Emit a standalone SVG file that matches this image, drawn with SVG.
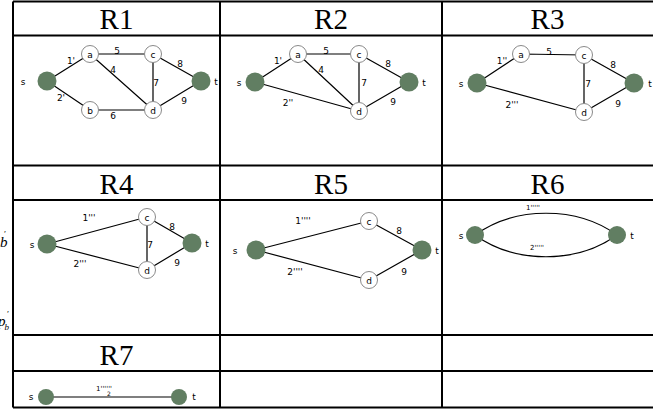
<svg xmlns="http://www.w3.org/2000/svg" width="653" height="409" viewBox="0 0 653 409">
<style>
.grid{stroke:#000;stroke-width:2;fill:none}
.hdr{font-family:"Liberation Serif",serif;font-size:29px;text-anchor:middle;fill:#000}
.e{stroke:#000;stroke-width:1.2;fill:none}
.lbl{font-family:"DejaVu Sans",sans-serif;font-size:9px;text-anchor:middle;fill:#000}
.sm{font-size:7px}
.nl{font-family:"DejaVu Sans",sans-serif;font-size:9px;text-anchor:middle;fill:#000}
.g{fill:#617e62}
.w{fill:#fff;stroke:#8a8a8a;stroke-width:1}
.frag{font-family:"Liberation Serif",serif;font-style:italic;fill:#000}
</style>
<rect width="653" height="409" fill="#fff"/>
<text class="frag" x="0" y="247" font-size="15">b<tspan dx="-4" dy="-10" font-size="9">′</tspan></text>
<text class="frag" x="-2" y="326" font-size="15">p<tspan dx="1" dy="-9" font-size="9">′</tspan><tspan dx="-4" dy="13" font-size="9">b</tspan></text>
<g id="table">
<path class="grid" d="M13,1.5H653M13,35.5H653M13,165.5H653M13,200H653M13,335H653M13,371H653M13,407.5H653M13,1.5V407.5M220,1.5V407.5M442,1.5V407.5"/>
<text class="hdr" x="116.5" y="29">R1</text>
<text class="hdr" x="331" y="29">R2</text>
<text class="hdr" x="547.5" y="29">R3</text>
<text class="hdr" x="116.5" y="194">R4</text>
<text class="hdr" x="331" y="194">R5</text>
<text class="hdr" x="547.5" y="194">R6</text>
<text class="hdr" x="116.5" y="365">R7</text>
</g>
<g id="connectors">
<path class="e" d="M47,81L90,54M90,54L153,54M90,54L153,110M153,54L201,81M153,54L153,110M47,81L90,110M90,110L153,110M153,110L201,81"/>
<path class="e" d="M255,82L298,54M298,54L359,54M298,54L359,111M359,54L409,82M359,54L359,111M255,82L359,111M359,111L409,82"/>
<path class="e" d="M477,83L521,54M521,54L584,55M584,55L634,83M584,55L584,112M477,83L584,112M584,112L634,83"/>
<path class="e" d="M47,244L147,217M147,217L192,243M147,217L147,270M47,244L147,270M147,270L192,243"/>
<path class="e" d="M256,250L369,221M369,221L422,250M256,250L369,280M369,280L422,250"/>
<path class="e" d="M475,235C515,206 577,206 617,235M475,235C515,264 577,264 617,235"/>
<path class="e" d="M46,397H179" stroke="#555"/>
<text class="lbl" x="71" y="63.5">1'</text>
<text class="lbl" x="117" y="54">5</text>
<text class="lbl" x="113" y="72.5">4</text>
<text class="lbl" x="180" y="66.5">8</text>
<text class="lbl" x="156" y="85.5">7</text>
<text class="lbl" x="61" y="100.5">2'</text>
<text class="lbl" x="113" y="118.5">6</text>
<text class="lbl" x="184" y="103.5">9</text>
<text class="lbl" x="278" y="63.5">1'</text>
<text class="lbl" x="326" y="53.5">5</text>
<text class="lbl" x="321" y="72.5">4</text>
<text class="lbl" x="388" y="66.5">8</text>
<text class="lbl" x="364" y="85.5">7</text>
<text class="lbl" x="288" y="105.5">2''</text>
<text class="lbl" x="393" y="104.5">9</text>
<text class="lbl" x="502" y="63.5">1''</text>
<text class="lbl" x="549" y="54.5">5</text>
<text class="lbl" x="613" y="67.5">8</text>
<text class="lbl" x="588" y="86.5">7</text>
<text class="lbl" x="512" y="107.5">2'''</text>
<text class="lbl" x="618" y="106.5">9</text>
<text class="lbl" x="89" y="221">1'''</text>
<text class="lbl" x="172" y="229.5">8</text>
<text class="lbl" x="150" y="247.5">7</text>
<text class="lbl" x="80" y="266.5">2'''</text>
<text class="lbl" x="177" y="265.5">9</text>
<text class="lbl" x="303" y="223.5">1''''</text>
<text class="lbl" x="399" y="234">8</text>
<text class="lbl" x="295" y="274.5">2''''</text>
<text class="lbl" x="404" y="275">9</text>
<text class="lbl sm" x="533" y="210">1'''''</text>
<text class="lbl sm" x="537" y="250">2'''''</text>
<text class="lbl sm" x="104" y="391">1''''''<tspan dx="-5" dy="5" font-size="6">2</tspan></text>
</g>
<g id="r1-s"><circle class="g" cx="47" cy="81" r="9.5"/><text class="nl" x="23" y="85">s</text></g>
<g id="r1-a"><circle class="w" cx="90" cy="54" r="8.5"/><text class="nl" x="90" y="57.5">a</text></g>
<g id="r1-c"><circle class="w" cx="153" cy="54" r="8.5"/><text class="nl" x="153" y="57.5">c</text></g>
<g id="r1-t"><circle class="g" cx="201" cy="81" r="9.5"/><text class="nl" x="216" y="85">t</text></g>
<g id="r1-b"><circle class="w" cx="90" cy="110" r="8.5"/><text class="nl" x="90" y="113.5">b</text></g>
<g id="r1-d"><circle class="w" cx="153" cy="110" r="8.5"/><text class="nl" x="153" y="113.5">d</text></g>
<g id="r2-s"><circle class="g" cx="255" cy="82" r="9.5"/><text class="nl" x="239" y="86">s</text></g>
<g id="r2-a"><circle class="w" cx="298" cy="54" r="8.5"/><text class="nl" x="298" y="57.5">a</text></g>
<g id="r2-c"><circle class="w" cx="359" cy="54" r="8.5"/><text class="nl" x="359" y="57.5">c</text></g>
<g id="r2-t"><circle class="g" cx="409" cy="82" r="9.5"/><text class="nl" x="424" y="86">t</text></g>
<g id="r2-d"><circle class="w" cx="359" cy="111" r="8.5"/><text class="nl" x="359" y="114.5">d</text></g>
<g id="r3-s"><circle class="g" cx="477" cy="83" r="9.5"/><text class="nl" x="461" y="86.5">s</text></g>
<g id="r3-a"><circle class="w" cx="521" cy="54" r="8.5"/><text class="nl" x="521" y="57.5">a</text></g>
<g id="r3-c"><circle class="w" cx="584" cy="55" r="8.5"/><text class="nl" x="584" y="58.5">c</text></g>
<g id="r3-t"><circle class="g" cx="634" cy="83" r="9.5"/><text class="nl" x="650" y="86.5">t</text></g>
<g id="r3-d"><circle class="w" cx="584" cy="112" r="8.5"/><text class="nl" x="584" y="115.5">d</text></g>
<g id="r4-s"><circle class="g" cx="47" cy="244" r="9.5"/><text class="nl" x="32" y="247.5">s</text></g>
<g id="r4-c"><circle class="w" cx="147" cy="217" r="8.5"/><text class="nl" x="147" y="220.5">c</text></g>
<g id="r4-t"><circle class="g" cx="192" cy="243" r="9.5"/><text class="nl" x="207" y="247">t</text></g>
<g id="r4-d"><circle class="w" cx="147" cy="270" r="8.5"/><text class="nl" x="147" y="273.5">d</text></g>
<g id="r5-s"><circle class="g" cx="256" cy="250" r="9.5"/><text class="nl" x="235" y="253.5">s</text></g>
<g id="r5-c"><circle class="w" cx="369" cy="221" r="8.5"/><text class="nl" x="369" y="224.5">c</text></g>
<g id="r5-t"><circle class="g" cx="422" cy="250" r="9.5"/><text class="nl" x="437" y="253.5">t</text></g>
<g id="r5-d"><circle class="w" cx="369" cy="280" r="8.5"/><text class="nl" x="369" y="283.5">d</text></g>
<g id="r6-s"><circle class="g" cx="475" cy="235" r="9"/><text class="nl" x="461" y="238.5" font-size="8">s</text></g>
<g id="r6-t"><circle class="g" cx="617" cy="235" r="9"/><text class="nl" x="632" y="238.5" font-size="8">t</text></g>
<g id="r7-s"><circle class="g" cx="46" cy="397" r="8"/><text class="nl" x="31" y="400" font-size="7">s</text></g>
<g id="r7-t"><circle class="g" cx="179" cy="397" r="8"/><text class="nl" x="194" y="400" font-size="7">t</text></g>
</svg>
